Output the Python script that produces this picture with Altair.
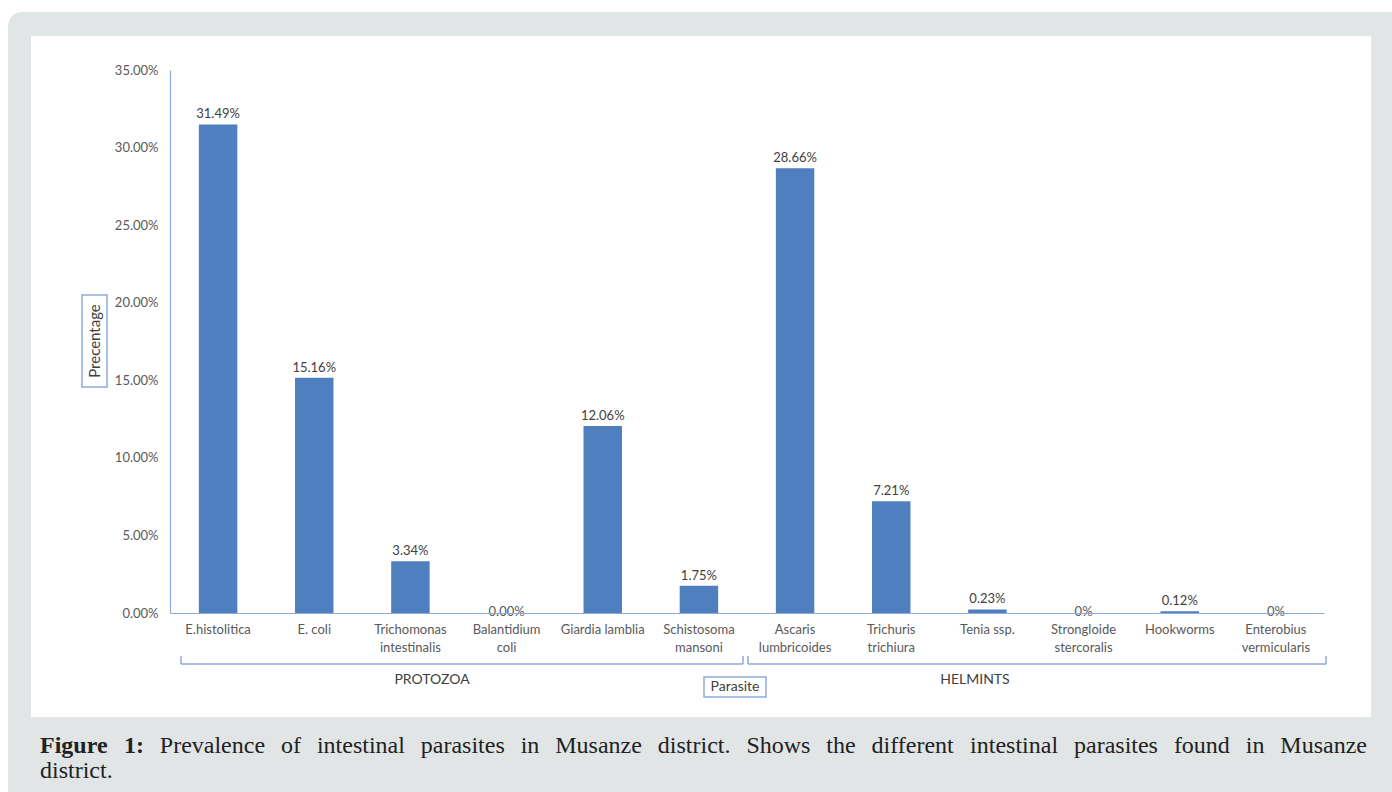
import altair as alt
import pandas as pd

# Prevalence of intestinal parasites, Musanze district
parasites = [
    "E.histolitica", "E. coli", "Trichomonas\nintestinalis", "Balantidium\ncoli",
    "Giardia lamblia", "Schistosoma\nmansoni", "Ascaris\nlumbricoides",
    "Trichuris\ntrichiura", "Tenia ssp.", "Strongloide\nstercoralis",
    "Hookworms", "Enterobius\nvermicularis",
]
prevalence_pct = [31.49, 15.16, 3.34, 0.00, 12.06, 1.75, 28.66, 7.21, 0.23, 0.0, 0.12, 0.0]
value_labels = ["31.49%", "15.16%", "3.34%", "0.00%", "12.06%", "1.75%",
                "28.66%", "7.21%", "0.23%", "0%", "0.12%", "0%"]
y_ticks = [0.0, 0.05, 0.10, 0.15, 0.20, 0.25, 0.30, 0.35]

caption_line1 = ("Prevalence of intestinal parasites in Musanze district. "
                 "Shows the different intestinal parasites found in Musanze")
caption_line2 = "district."

df = pd.DataFrame({
    "parasite": parasites,
    "prevalence": [v / 100 for v in prevalence_pct],
    "label": value_labels,
})

W, H = 1154, 543
LEFT, TOP = 170, 70
PAGE_W, PAGE_H = 1392, 792

BAR = "#4f7fbe"
AXIS_BLUE = "#8faadc"
TXT = "#404040"
FONT = "Lato"
SERIF = "Liberation Serif"
CAP_SIZE = 24

one = pd.DataFrame({"k": [0]})


def deco():
    return alt.Chart(one)


def rule(x1, y1, x2, y2, color=AXIS_BLUE, width=1.5):
    return deco().mark_rule(color=color, strokeWidth=width).encode(
        x=alt.value(x1), x2=alt.value(x2), y=alt.value(y1), y2=alt.value(y2)
    )


def label(text, x, y, size=12, color=TXT, **kw):
    return deco().mark_text(text=text, fontSize=size, color=color, font=FONT, **kw).encode(
        x=alt.value(x), y=alt.value(y)
    )


# Times-compatible advance widths (1/1000 em) used to justify the caption line
REG = {"P": 556, "M": 889, "S": 556, "a": 444, "c": 444, "d": 500, "e": 444, "f": 333,
       "g": 500, "h": 500, "i": 278, "l": 278, "n": 500, "o": 500, "p": 500, "r": 333,
       "s": 389, "t": 278, "u": 500, "v": 500, "w": 722, "z": 444, ".": 250}
BOLD = {"F": 611, "i": 278, "g": 500, "u": 556, "r": 444, "e": 444, "1": 500, ":": 333}


def text_width(word, table):
    return sum(table.get(ch, 500) for ch in word) * CAP_SIZE / 1000


def justified_line(bold_words, words, x_left, x_right, y):
    items = [(w, True) for w in bold_words] + [(w, False) for w in words]
    widths = [text_width(w, BOLD if b else REG) for w, b in items]
    gap = (x_right - x_left - sum(widths)) / (len(items) - 1)
    layers, x = [], x_left
    for (w, b), wd in zip(items, widths):
        layers.append(deco().mark_text(
            text=w, font=SERIF, fontSize=CAP_SIZE, color="#222222", align="left",
            baseline="alphabetic", fontWeight="bold" if b else "normal",
        ).encode(x=alt.value(x - LEFT), y=alt.value(y - TOP)))
        x += wd + gap
    return layers


# page framing: grey card with a white chart panel
card = deco().mark_rect(color="#e1e5e6", cornerRadiusTopLeft=14).encode(
    x=alt.value(8 - LEFT), x2=alt.value(PAGE_W - LEFT),
    y=alt.value(12 - TOP), y2=alt.value(PAGE_H - TOP),
)
panel = deco().mark_rect(color="white").encode(
    x=alt.value(31 - LEFT), x2=alt.value(1371 - LEFT),
    y=alt.value(36 - TOP), y2=alt.value(717 - TOP),
)

x_enc = alt.X(
    "parasite:N", sort=parasites, title=None,
    scale=alt.Scale(paddingInner=0.6, paddingOuter=0.3),
    axis=alt.Axis(
        labelExpr="split(datum.label, '\\n')", labelAngle=0, labelPadding=10,
        labelLineHeight=18, labelFontSize=13, labelColor="#595959", labelFont=FONT,
        ticks=False, domainColor=AXIS_BLUE, domainWidth=1.2, labelLimit=200, zindex=1,
    ),
)
y_enc = alt.Y(
    "prevalence:Q", title=None,
    scale=alt.Scale(domain=[0, 0.35], nice=False, zero=True),
    axis=alt.Axis(
        values=y_ticks, format=".2%", grid=False, ticks=False, labelPadding=12,
        labelFontSize=13, labelColor="#595959", labelFont=FONT,
        domainColor=AXIS_BLUE, domainWidth=1.2, zindex=1,
    ),
)

base = alt.Chart(df)
bars = base.mark_bar(color=BAR).encode(x=x_enc, y=y_enc)
bar_text = base.transform_filter("datum.prevalence > 0").mark_text(
    dy=-10, fontSize=13, color=TXT, font=FONT, baseline="middle"
).encode(x=alt.X("parasite:N", sort=parasites), y="prevalence:Q", text="label:N")
zero_text = base.transform_filter("datum.prevalence == 0").mark_text(
    dy=-1, fontSize=13, color="#595959", font=FONT, baseline="middle"
).encode(x=alt.X("parasite:N", sort=parasites), y="prevalence:Q", text="label:N")

# group brackets under the category labels
brackets = [
    rule(11, 594, 573, 594), rule(11, 586, 11, 594), rule(573, 586, 573, 594),
    rule(578, 594, 1156, 594), rule(578, 586, 578, 594), rule(1156, 586, 1156, 594),
]
groups = [
    label("PROTOZOA", 262, 610, size=14),
    label("HELMINTS", 805, 610, size=14),
]

parasite_box = deco().mark_rect(fill="white", stroke=AXIS_BLUE, strokeWidth=1.5).encode(
    x=alt.value(534), x2=alt.value(596), y=alt.value(607), y2=alt.value(627)
)
parasite_txt = label("Parasite", 565, 617, size=14, baseline="middle")

ytitle_box = deco().mark_rect(fill="white", stroke=AXIS_BLUE, strokeWidth=1.5).encode(
    x=alt.value(-88), x2=alt.value(-63), y=alt.value(225), y2=alt.value(317)
)
ytitle_txt = label("Precentage", -75.5, 271, size=15, angle=270, baseline="middle")

caption = justified_line(["Figure", "1:"], caption_line1.split(" "), 40, 1367, 753)
caption.append(deco().mark_text(
    text=caption_line2, font=SERIF, fontSize=CAP_SIZE, color="#222222",
    align="left", baseline="alphabetic",
).encode(x=alt.value(40 - LEFT), y=alt.value(778 - TOP)))

chart = alt.layer(
    card, panel, bars, bar_text, zero_text, *brackets, *groups,
    parasite_box, parasite_txt, ytitle_box, ytitle_txt, *caption,
).properties(
    width=W, height=H, autosize="none", background="white",
    padding={"left": LEFT, "top": TOP, "right": PAGE_W - LEFT - W, "bottom": PAGE_H - TOP - H},
).configure_view(stroke=None)

chart.save("out.html", embed_options={"renderer": "svg", "actions": False})
